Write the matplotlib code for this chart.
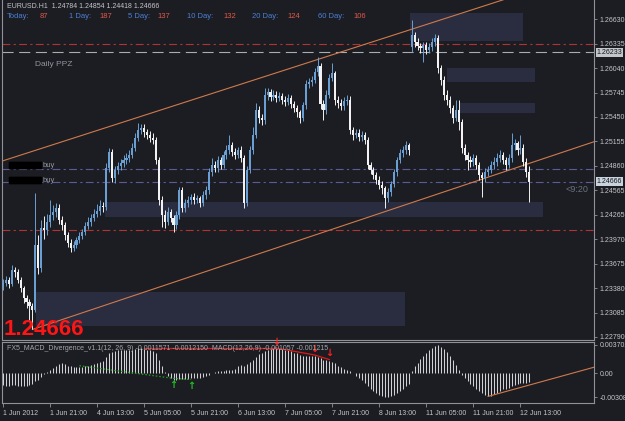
import matplotlib
matplotlib.use('Agg')
import matplotlib.pyplot as plt
from matplotlib.patches import Rectangle, FancyBboxPatch
import numpy as np

# ---- EURUSD H1, 1 Jun 2012 05:00 .. 12 Jun 2012 16:00 ----
closes = [
    1.2344, 1.2348, 1.2343, 1.2360, 1.2358, 1.2348, 1.2338, 1.2326, 1.2321, 1.2316,
    1.2312, 1.2390, 1.2362, 1.2411, 1.2408, 1.2418, 1.2426, 1.2430, 1.2435, 1.2420,
    1.2414, 1.2402, 1.2393, 1.2387, 1.2390, 1.2396, 1.2401, 1.2406, 1.2413, 1.2418,
    1.2423, 1.2428, 1.2431, 1.2437, 1.2436, 1.2483, 1.2503, 1.2471, 1.2481, 1.2486,
    1.2489, 1.2493, 1.2495, 1.2499, 1.2508, 1.2520, 1.2529, 1.2532, 1.2527, 1.2523,
    1.2520, 1.2517, 1.2493, 1.2445, 1.2426, 1.2418, 1.2430, 1.2423, 1.2414, 1.2426,
    1.2457, 1.2435, 1.2441, 1.2445, 1.2448, 1.2445, 1.2447, 1.2441, 1.2451, 1.2457,
    1.2478, 1.2487, 1.2483, 1.2493, 1.2487, 1.2499, 1.2505, 1.2511, 1.2503, 1.2499,
    1.2505, 1.2495, 1.2441, 1.2481, 1.2505, 1.2523, 1.2553, 1.2544, 1.2541, 1.2572,
    1.2575, 1.2569, 1.2572, 1.2568, 1.2570, 1.2566, 1.2563, 1.2568, 1.2561, 1.2556,
    1.2551, 1.2544, 1.2559, 1.2585, 1.2587, 1.2590, 1.2599, 1.2607, 1.2561, 1.2553,
    1.2572, 1.2592, 1.2598, 1.2566, 1.2562, 1.2558, 1.2564, 1.2566, 1.2529, 1.2523,
    1.2526, 1.2521, 1.2523, 1.2517, 1.2487, 1.2481, 1.2475, 1.2469, 1.2463, 1.2459,
    1.2447, 1.2454, 1.2464, 1.2478, 1.2493, 1.2501, 1.2505, 1.2511, 1.2505, 1.2644,
    1.2636, 1.2631, 1.2628, 1.2632, 1.2626, 1.2630, 1.2636, 1.2641, 1.2604, 1.2590,
    1.2572, 1.2566, 1.2556, 1.2544, 1.2553, 1.2539, 1.2508, 1.2499, 1.2493, 1.2491,
    1.2495, 1.2487, 1.2475, 1.2471, 1.2478, 1.2481, 1.2487, 1.2491, 1.2495, 1.2499,
    1.2493, 1.2487, 1.2495, 1.2511, 1.2513, 1.2505, 1.2508, 1.2491, 1.24784, 1.24666,
]
highs = [
    1.2349, 1.2353, 1.2352, 1.2366, 1.2364, 1.2361, 1.2351, 1.2341, 1.2330, 1.2325,
    1.2320, 1.2453, 1.2402, 1.2420, 1.2425, 1.2428, 1.2445, 1.2438, 1.2441, 1.2440,
    1.2425, 1.2418, 1.2406, 1.2398, 1.2395, 1.2400, 1.2406, 1.2410, 1.2418, 1.2424,
    1.2428, 1.2434, 1.2440, 1.2444, 1.2442, 1.2489, 1.2508, 1.2506, 1.2486, 1.2491,
    1.2494, 1.2499, 1.2501, 1.2505, 1.2513, 1.2525, 1.2538, 1.2537, 1.2536, 1.2531,
    1.2528, 1.2525, 1.2521, 1.2497, 1.2450, 1.2432, 1.2436, 1.2434, 1.2427, 1.2431,
    1.2460, 1.2460, 1.2446, 1.2450, 1.2452, 1.2453, 1.2451, 1.2450, 1.2455, 1.2462,
    1.2483, 1.2495, 1.2492, 1.2498, 1.2497, 1.2504, 1.2511, 1.2523, 1.2515, 1.2508,
    1.2509, 1.2510, 1.2499, 1.2486, 1.2510, 1.2533, 1.2562, 1.2558, 1.2549, 1.2580,
    1.2580, 1.2579, 1.2577, 1.2576, 1.2575, 1.2574, 1.2570, 1.2573, 1.2571, 1.2564,
    1.2559, 1.2554, 1.2563, 1.2590, 1.2592, 1.2595, 1.2604, 1.2618, 1.2610, 1.2565,
    1.2577, 1.2597, 1.2610, 1.2601, 1.2570, 1.2567, 1.2569, 1.2571, 1.2570, 1.2533,
    1.2531, 1.2530, 1.2528, 1.2527, 1.2521, 1.2491, 1.2485, 1.2479, 1.2473, 1.2467,
    1.2462, 1.2459, 1.2468, 1.2482, 1.2497, 1.2506, 1.2510, 1.2516, 1.2514, 1.2662,
    1.2648, 1.2640, 1.2635, 1.2636, 1.2636, 1.2635, 1.2640, 1.2645, 1.2644, 1.2608,
    1.2594, 1.2578, 1.2570, 1.2560, 1.2566, 1.2566, 1.2542, 1.2512, 1.2503, 1.2498,
    1.2500, 1.2499, 1.2491, 1.2479, 1.2483, 1.2486, 1.2492, 1.2497, 1.2501, 1.2505,
    1.2503, 1.2497, 1.2500, 1.2526, 1.2518, 1.2516, 1.2523, 1.2512, 1.2495, 1.24854,
]
lows = [
    1.2336, 1.2340, 1.2338, 1.2340, 1.2352, 1.2344, 1.2333, 1.2320, 1.2314, 1.2300,
    1.2288, 1.2309, 1.2355, 1.2358, 1.2398, 1.2402, 1.2412, 1.2420, 1.2424, 1.2415,
    1.2408, 1.2396, 1.2388, 1.2382, 1.2383, 1.2386, 1.2392, 1.2397, 1.2402, 1.2409,
    1.2413, 1.2419, 1.2424, 1.2426, 1.2430, 1.2432, 1.2478, 1.2466, 1.2465, 1.2476,
    1.2481, 1.2485, 1.2488, 1.2490, 1.2495, 1.2504, 1.2516, 1.2524, 1.2521, 1.2518,
    1.2515, 1.2512, 1.2488, 1.2439, 1.2412, 1.2411, 1.2414, 1.2418, 1.2406, 1.2410,
    1.2422, 1.2430, 1.2430, 1.2436, 1.2440, 1.2440, 1.2441, 1.2436, 1.2437, 1.2446,
    1.2452, 1.2474, 1.2478, 1.2479, 1.2482, 1.2483, 1.2494, 1.2500, 1.2498, 1.2494,
    1.2495, 1.2490, 1.2435, 1.2437, 1.2477, 1.2500, 1.2519, 1.2538, 1.2535, 1.2537,
    1.2566, 1.2564, 1.2565, 1.2563, 1.2564, 1.2561, 1.2558, 1.2559, 1.2556, 1.2551,
    1.2545, 1.2538, 1.2540, 1.2555, 1.2580, 1.2582, 1.2586, 1.2595, 1.2555, 1.2541,
    1.2549, 1.2568, 1.2588, 1.2560, 1.2556, 1.2553, 1.2554, 1.2559, 1.2524, 1.2517,
    1.2519, 1.2516, 1.2516, 1.2512, 1.2482, 1.2476, 1.2470, 1.2464, 1.2458, 1.2452,
    1.2435, 1.2442, 1.2450, 1.2460, 1.2474, 1.2489, 1.2497, 1.2500, 1.2499, 1.2624,
    1.2630, 1.2626, 1.2622, 1.2611, 1.2621, 1.2622, 1.2625, 1.2631, 1.2598, 1.2584,
    1.2566, 1.2560, 1.2550, 1.2538, 1.2540, 1.2529, 1.2502, 1.2493, 1.2481, 1.2485,
    1.2486, 1.2482, 1.2469, 1.2448, 1.2466, 1.2473, 1.2477, 1.2482, 1.2486, 1.2490,
    1.2488, 1.2481, 1.2483, 1.2491, 1.2505, 1.2499, 1.2500, 1.2486, 1.2472, 1.24418,
]
first_open = 1.2340
gap_bar = 139          # Monday 11 Jun 00:00 opened with a gap
gap_open = 1.2630

# MACD(12,26,9) histogram, in units of 0.001
macd_milli = [
    -1.5, -1.6, -1.6, -1.5, -1.5, -1.6, -1.7, -1.7, -1.6, -1.5,
    -1.4, -1.0, -0.8, -0.5, -0.1, 0.2, 0.4, 0.7, 1.0, 1.2,
    1.3, 1.2, 1.0, 0.9, 0.8, 0.8, 0.8, 0.8, 0.9, 1.0,
    1.1, 1.2, 1.3, 1.5, 1.6, 2.2, 2.7, 2.8, 2.9, 3.0,
    3.0, 3.0, 3.0, 3.0, 3.1, 3.2, 3.3, 3.3, 3.2, 3.1,
    3.0, 2.9, 2.6, 1.8, 0.9, 0.2, -0.3, -0.6, -0.8, -0.9,
    -0.7, -0.7, -0.7, -0.7, -0.6, -0.6, -0.6, -0.6, -0.5, -0.4,
    -0.2, 0.0, 0.2, 0.3, 0.3, 0.3, 0.4, 0.5, 0.4, 0.6,
    0.9, 1.1, 1.0, 1.2, 1.5, 1.8, 2.2, 2.5, 2.6, 2.9,
    3.1, 3.2, 3.3, 3.4, 3.3, 3.2, 3.1, 3.0, 2.9, 2.7,
    2.6, 2.4, 2.3, 2.3, 2.3, 2.3, 2.3, 2.2, 2.0, 1.8,
    1.7, 1.6, 1.5, 1.3, 1.0, 0.8, 0.6, 0.4, 0.3, 0.0,
    -0.3, -0.6, -0.9, -1.2, -1.6, -2.0, -2.3, -2.6, -2.8, -3.0,
    -3.1, -3.1, -3.0, -2.8, -2.6, -2.3, -2.0, -1.7, -1.4, 0.3,
    0.9, 1.4, 1.9, 2.3, 2.7, 3.0, 3.3, 3.6, 3.7, 3.5,
    3.2, 2.8, 2.3, 1.7, 1.1, 0.5, -0.2, -0.6, -1.0, -1.4,
    -1.7, -2.0, -2.3, -2.6, -2.8, -3.0, -2.9, -2.7, -2.5, -2.3,
    -2.1, -2.0, -1.9, -1.7, -1.5, -1.4, -1.3, -1.2, -1.2, -1.16,
]

time_ticks = [0, 16, 32, 48, 64, 80, 96, 112, 128, 144, 160, 176]
time_labels = ['1 Jun 2012', '1 Jun 21:00', '4 Jun 13:00', '5 Jun 05:00', '5 Jun 21:00',
               '6 Jun 13:00', '7 Jun 05:00', '7 Jun 21:00', '8 Jun 13:00', '11 Jun 05:00',
               '11 Jun 21:00', '12 Jun 13:00']
price_labels = ['1.26630', '1.26335', '1.26040', '1.25745', '1.25450', '1.25155', '1.24860',
                '1.24565', '1.24265', '1.23970', '1.23675', '1.23380', '1.23085', '1.22790']
macd_ticks = [3.702, 0.0, -3.08]
macd_tick_labels = ['0.003702', '0.00', '-0.00308']

# PPZ zones: (first bar, last bar, low, high)
zone_start = [138.4, 151.0, 155.4, 34.7, 11.2]
zone_end = [176.9, 181.0, 181.0, 183.7, 136.7]
zone_low = [1.2637, 1.2587, 1.2550, 1.2424, 1.2292]
zone_high = [1.2671, 1.2604, 1.2562, 1.2442, 1.2333]

red_levels = [1.2633, 1.2408]
ppz_level = 1.26233
buy_levels = [1.2482, 1.24666]

# channel trend lines (bar, price)
upper_chan = [(0, 1.2492), (215, 1.2738)]
lower_chan = [(10, 1.2288), (201, 1.2515)]

# MACD divergence marks
red_div_bars = [48, 93, 106, 111]
red_div_vals = [3.3, 3.3, 2.4, 1.8]
green_div_bars = [26, 58, 64]
green_div_vals = [1.0, -0.65, -0.8]
macd_trend = [(165, -3.0), (201, 0.8)]

BG = '#1c1d22'
ZONE = '#2a2c3f'
BULL = '#6a9fd3'
BEAR = '#f2f2f2'
AXC = '#8e9298'
TXT = '#c4c6ca'
ORANGE = '#cf7a4c'
W, H = 625, 421

plt.rcParams['font.family'] = ['Liberation Sans', 'DejaVu Sans']

fig = plt.figure(figsize=(6.25, 4.21), dpi=100, facecolor=BG)


def px(x, y):
    return x / W, 1 - y / H


ax = fig.add_axes([2 / W, 81 / H, 592 / W, 340 / H], facecolor=BG)
axm = fig.add_axes([2 / W, 18 / H, 592 / W, 61 / H], facecolor=BG)
XL = (-0.34, 201.02)

n = len(closes)
idx = np.arange(n)
opens = [first_open] + closes[:-1]
opens[gap_bar] = gap_open
o = np.array(opens)
c = np.array(closes)
h = np.array(highs)
l = np.array(lows)

# zones
for s, e, lo, hi in zip(zone_start, zone_end, zone_low, zone_high):
    ax.add_patch(Rectangle((s, lo), e - s, hi - lo, facecolor=ZONE, edgecolor='none', zorder=1))

# horizontal levels
for lv in red_levels:
    ax.axhline(lv, color='#b03434', lw=0.8, dashes=(7, 3, 2, 3), zorder=2)
ax.axhline(ppz_level, color='#a8adb4', lw=0.8, dashes=(10, 5), zorder=2)
for lv in buy_levels:
    ax.axhline(lv, color='#5b5b98', lw=0.8, dashes=(7, 3, 2, 3), zorder=2)

# channel
for (x0, y0), (x1, y1) in [upper_chan, lower_chan]:
    ax.plot([x0, x1], [y0, y1], color=ORANGE, lw=0.8, zorder=3)

# candles
up = c >= o
col = np.where(up, BULL, BEAR)
ax.vlines(idx, l, h, colors=col, lw=0.7, zorder=4)
bot = np.minimum(o, c)
hgt = np.maximum(np.abs(c - o), 0.00004)
ax.bar(idx, hgt, bottom=bot, width=0.72, color=col, edgecolor='none', zorder=5)

ax.set_xlim(*XL)
ax.set_ylim(1.22753, 1.26864)
ax.set_xticks([])
ax.yaxis.tick_right()
ax.set_yticks([float(s) for s in price_labels])
ax.set_yticklabels(price_labels)
ax.tick_params(axis='y', colors=AXC, length=2.5, width=0.6, pad=1.5, labelsize=5, labelcolor=TXT)
ax.spines['top'].set_visible(False)
for sp in ['left', 'right', 'bottom']:
    ax.spines[sp].set_color(AXC)
    ax.spines[sp].set_linewidth(0.8)

# current price / PPZ boxes on the price scale
tr = ax.get_yaxis_transform()
ax.text(1.004, ppz_level, '1.26233', transform=tr, fontsize=5, color='#15171c', va='center', ha='left',
        bbox=dict(boxstyle='square,pad=0.12', facecolor='#c3c7cc', edgecolor='none'), zorder=10, clip_on=False)
ax.text(1.004, closes[-1], '%.5f' % closes[-1], transform=tr, fontsize=5, color='#15171c', va='center', ha='left',
        bbox=dict(boxstyle='square,pad=0.12', facecolor='#c9d3de', edgecolor='none'), zorder=10, clip_on=False)

# MACD panel
m = np.array(macd_milli)
axm.vlines(idx, 0, m, colors='#cfd1d4', lw=0.75, zorder=3)
axm.plot(red_div_bars[:2], red_div_vals[:2], color='#e01818', lw=0.9, zorder=4)
axm.plot(red_div_bars[1:], red_div_vals[1:], color='#e01818', lw=0.9, zorder=4)
for b, v in zip(red_div_bars[1:], red_div_vals[1:]):
    axm.text(b, v + 0.15, '\u2193', color='#ff2020', fontsize=7, fontweight='bold',
             ha='center', va='bottom', family='DejaVu Sans', zorder=5)
axm.plot(green_div_bars, green_div_vals, color='#1fa31f', lw=0.9, ls=(0, (1.2, 1.6)), zorder=4)
for b, v in zip(green_div_bars[1:], green_div_vals[1:]):
    axm.text(b, v - 0.15, '\u2191', color='#22c022', fontsize=7, fontweight='bold',
             ha='center', va='top', family='DejaVu Sans', zorder=5)
axm.plot([p[0] for p in macd_trend], [p[1] for p in macd_trend], color=ORANGE, lw=0.8, zorder=4)

axm.set_xlim(*XL)
axm.set_ylim(-3.86, 4.09)
axm.yaxis.tick_right()
axm.set_yticks(macd_ticks)
axm.set_yticklabels(macd_tick_labels)
axm.tick_params(axis='y', colors=AXC, length=2.5, width=0.6, pad=1.5, labelsize=5, labelcolor=TXT)
axm.set_xticks(time_ticks)
axm.set_xticklabels(time_labels)
axm.tick_params(axis='x', colors=AXC, length=3, width=0.6, pad=2, labelsize=5, labelcolor=TXT)
for lab in axm.get_xticklabels():
    lab.set_horizontalalignment('left')
for sp in axm.spines.values():
    sp.set_color(AXC)
    sp.set_linewidth(0.8)

# texts
fig.text(*px(7, 6), 'EURUSD.H1  1.24784 1.24854 1.24418 1.24666', fontsize=5, color=TXT, va='center')
stats = [('Today:', '87', 7, 40), ('1 Day:', '187', 69, 99), ('5 Day:', '137', 128, 157),
         ('10 Day:', '132', 187, 223), ('20 Day:', '124', 252, 287), ('60 Day:', '106', 318, 353)]
for lab, val, x0, x1 in stats:
    fig.text(*px(x0, 17), lab, fontsize=5.5, color='#4d7fd6', va='center')
    fig.text(*px(x1, 17), val, fontsize=5.5, color='#e0584a', va='center')
fig.text(*px(35, 65), 'Daily PPZ', fontsize=6, color='#8f959f', va='center')
fig.text(*px(565, 190), '<9:20', fontsize=6.5, color='#6b717b', va='center')
fig.text(*px(4, 335), '%.5f' % closes[-1], fontsize=16, fontweight='bold', color='#ff1515', va='baseline')
fig.text(*px(7, 348), 'FX5_MACD_Divergence_v1.1(12, 26, 9) -0.0011571 -0.0012150  MACD(12,26,9) -0.001057 -0.001215',
         fontsize=5, color='#a4a7ac', va='center', zorder=6)

# redacted order labels
for yb in (165.5, 180.5):
    fig.patches.append(FancyBboxPatch(px(10, yb + 3), 31 / W, 6 / H, boxstyle='round,pad=0.002',
                                      transform=fig.transFigure, facecolor='black', edgecolor='none'))
    fig.text(*px(43, yb), 'buy', fontsize=5.5, color='#8f959f', va='center')

fig.savefig('out.png', dpi=100, facecolor=BG)
